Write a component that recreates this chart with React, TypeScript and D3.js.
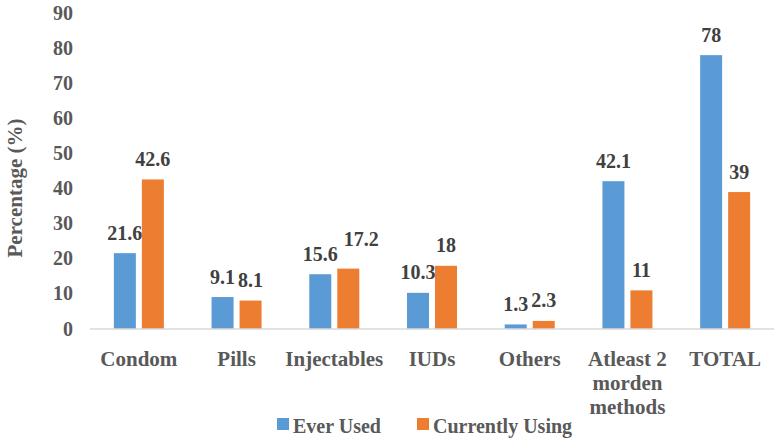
import React from "react";
import * as d3 from "d3";

const categories = ["Condom", "Pills", "Injectables", "IUDs", "Others", "Atleast 2 morden methods", "TOTAL"];
const categoryLines = [["Condom"], ["Pills"], ["Injectables"], ["IUDs"], ["Others"], ["Atleast 2", "morden", "methods"], ["TOTAL"]];
const seriesNames = ["Ever Used", "Currently Using"];
const everUsed = [21.6, 9.1, 15.6, 10.3, 1.3, 42.1, 78];
const currentlyUsing = [42.6, 8.1, 17.2, 18, 2.3, 11, 39];
const yTicks = [0, 10, 20, 30, 40, 50, 60, 70, 80, 90];
const colors = ["#5B9BD5", "#ED7D31"];

// manual label nudges (like the original's hand-placed labels)
const labelNudge: Record<string, [number, number]> = {
  "Injectables|Currently Using": [13, -9],
};

const W = 780;
const H = 444;
const FONT = "'Liberation Serif', 'Times New Roman', serif";

export default function App() {
  const x0 = d3.scaleBand<string>().domain(categories).range([90, 774]);
  const bw = x0.bandwidth();
  const x1 = d3
    .scaleBand<string>()
    .domain(seriesNames)
    .range([bw / 2 - 25, bw / 2 + 25])
    .paddingInner(6 / 28);
  const y = d3.scaleLinear().domain([0, 90]).range([329, 13]);
  const seriesValues = [everUsed, currentlyUsing];

  return (
    <svg
      width={W}
      height={H}
      style={{ position: "absolute", left: 0, top: 0, background: "#fff", fontFamily: FONT }}
      fontWeight="bold"
    >
      {yTicks.map((t) => (
        <text key={t} x={73} y={y(t)} dy="0.33em" textAnchor="end" fontSize={20} fill="#595959">
          {t}
        </text>
      ))}
      <text
        transform={`translate(22,${188}) rotate(-90)`}
        textAnchor="middle"
        fontSize={21}
        fill="#595959"
      >
        Percentage (%)
      </text>
      {categories.map((c, i) =>
        seriesNames.map((s, j) => {
          const v = seriesValues[j][i];
          const bx = (x0(c) as number) + (x1(s) as number);
          const [ndx, ndy] = labelNudge[c + "|" + s] || [0, 0];
          return (
            <g key={c + s}>
              <rect x={bx} y={y(v)} width={x1.bandwidth()} height={y(0) - y(v)} fill={colors[j]} />
              <text
                x={bx + x1.bandwidth() / 2 + ndx}
                y={y(v) - 13.5 + ndy}
                textAnchor="middle"
                fontSize={20}
                fill="#404040"
              >
                {v}
              </text>
            </g>
          );
        })
      )}
      <line x1={90} x2={774} y1={y(0)} y2={y(0)} stroke="#d9d9d9" strokeWidth={1.3} />
      {categories.map((c, i) => (
        <text key={c} textAnchor="middle" fontSize={21} fill="#595959">
          {categoryLines[i].map((ln, k) => (
            <tspan key={k} x={(x0(c) as number) + bw / 2} y={366 + k * 24}>
              {ln}
            </tspan>
          ))}
        </text>
      ))}
      {seriesNames.map((s, j) => {
        const lx = j === 0 ? 277 : 417;
        return (
          <g key={s}>
            <rect x={lx} y={418} width={12} height={12} fill={colors[j]} />
            <text x={lx + 16} y={433} fontSize={20} fill="#595959">
              {s}
            </text>
          </g>
        );
      })}
    </svg>
  );
}
